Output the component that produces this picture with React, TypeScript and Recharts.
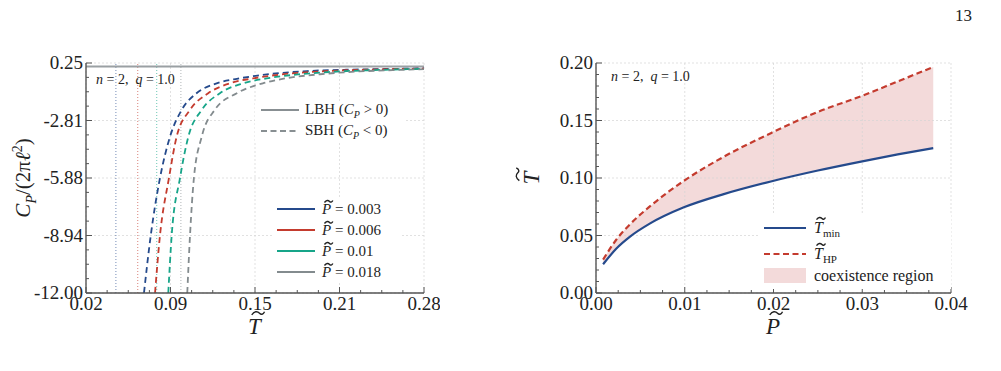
import { ComposedChart, Line, Area, XAxis, YAxis, ReferenceLine } from "recharts";

const SERIF = '"Liberation Serif", "DejaVu Serif", serif';

// ---- left panel: C_P vs T for several pressures (SBH branch, dashed) ----
const T_P003 = [0.0646, 0.0698, 0.0769, 0.0846, 0.0936, 0.105, 0.1205, 0.138, 0.1615, 0.19, 0.22, 0.25, 0.28];
const C_P003 = [-12, -8.94, -5.88, -3.68, -2.25, -1.36, -0.83, -0.57, -0.34, -0.18, -0.11, -0.07, -0.04];
const T_P006 = [0.0731, 0.0769, 0.0838, 0.0897, 0.1, 0.114, 0.1308, 0.1485, 0.17, 0.2, 0.24, 0.28];
const C_P006 = [-12, -8.94, -5.88, -3.68, -2.25, -1.36, -0.83, -0.57, -0.36, -0.2, -0.1, -0.05];
const T_P010 = [0.0833, 0.0859, 0.0923, 0.0987, 0.109, 0.123, 0.141, 0.159, 0.18, 0.21, 0.245, 0.28];
const C_P010 = [-12, -8.94, -5.88, -3.68, -2.25, -1.36, -0.83, -0.57, -0.38, -0.22, -0.12, -0.06];
const T_P018 = [0.0979, 0.1, 0.103, 0.109, 0.119, 0.136, 0.156, 0.175, 0.2, 0.23, 0.26, 0.28];
const C_P018 = [-12, -8.94, -5.88, -3.68, -2.25, -1.36, -0.83, -0.55, -0.35, -0.2, -0.12, -0.08];
// LBH branch only shows as a band just under the top edge
const T_LBH = [0.02, 0.28];
const C_LBH = [0.06, 0.06];
// dotted verticals (T_min for each pressure)
const TMIN_MARKS = [0.043, 0.0598, 0.0744, 0.093];

const PRESSURE_LABELS = ["0.003", "0.006", "0.01", "0.018"];
const PRESSURE_COLORS = ["#254a8c", "#c43b2e", "#17a589", "#838b8e"];

const T_TICKS = [0.02, 0.085, 0.15, 0.215, 0.28];
const T_TICK_LABELS = ["0.02", "0.09", "0.15", "0.21", "0.28"];
const CP_TICKS = [0.25, -2.8125, -5.875, -8.9375, -12];
const CP_TICK_LABELS = ["0.25", "-2.81", "-5.88", "-8.94", "-12.00"];

// ---- right panel: T_min and T_HP vs P ----
const P_VALUES = [0.0008, 0.0023, 0.0038, 0.0061, 0.0099, 0.0144, 0.0197, 0.025, 0.03, 0.034, 0.038];
const T_MIN = [0.025, 0.0387, 0.0488, 0.0605, 0.0745, 0.086, 0.097, 0.1065, 0.1145, 0.1205, 0.126];
const T_HP = [0.029, 0.0465, 0.0595, 0.0755, 0.0975, 0.1185, 0.139, 0.1575, 0.1715, 0.184, 0.1965];

const P_TICKS = [0, 0.01, 0.02, 0.03, 0.04];
const P_TICK_LABELS = ["0.00", "0.01", "0.02", "0.03", "0.04"];
const TT_TICKS = [0, 0.05, 0.1, 0.15, 0.2];
const TT_TICK_LABELS = ["0.00", "0.05", "0.10", "0.15", "0.20"];

const zipRows = (xs: number[], ys: number[]) => xs.map((x, i) => ({ x, y: ys[i] }));
const leftSeries = [
  zipRows(T_P003, C_P003),
  zipRows(T_P006, C_P006),
  zipRows(T_P010, C_P010),
  zipRows(T_P018, C_P018),
];
const lbhRows = zipRows(T_LBH, C_LBH);
const rightRows = P_VALUES.map((p, i) => ({ x: p, tmin: T_MIN[i], thp: T_HP[i], band: [T_MIN[i], T_HP[i]] }));

const withMinors = (majors: number[], per: number) => {
  const out: number[] = [];
  for (let i = 0; i < majors.length - 1; i++) {
    const a = majors[i];
    const b = majors[i + 1];
    for (let k = 0; k < per; k++) out.push(a + ((b - a) * k) / per);
  }
  out.push(majors[majors.length - 1]);
  return out;
};

const FRAME = "#555";
const GRID = "#d4d4d4";

type Side = "bottom" | "left" | "top" | "right";

function makeTick(side: Side, majors: number[], labels?: string[]) {
  return (props: any) => {
    const { x, y, payload } = props;
    const idx = majors.findIndex((m) => Math.abs(m - payload.value) < 1e-9);
    const len = idx >= 0 ? 6 : 3;
    let x2 = x;
    let y2 = y;
    if (side === "bottom") y2 = y - len;
    if (side === "top") y2 = y + len;
    if (side === "left") x2 = x + len;
    if (side === "right") x2 = x - len;
    const label = idx >= 0 && labels ? labels[idx] : null;
    return (
      <g>
        <line x1={x} y1={y} x2={x2} y2={y2} stroke={FRAME} strokeWidth={1} />
        {label && side === "bottom" && (
          <text x={x} y={y + 17} textAnchor="middle" fontSize={19} fontFamily={SERIF} fill="#222">
            {label}
          </text>
        )}
        {label && side === "left" && (
          <text x={x - 3} y={y + 6} textAnchor="end" fontSize={19} fontFamily={SERIF} fill="#222">
            {label}
          </text>
        )}
      </g>
    );
  };
}

function Frame({ xMajors, xLabels, xMinorPer, yMajors, yLabels, yMinorPer }: any) {
  const xTicks = withMinors(xMajors, xMinorPer);
  const yTicks = withMinors(yMajors, yMinorPer);
  const xDomain = [xMajors[0], xMajors[xMajors.length - 1]];
  const yDomain = [Math.min(...yMajors), Math.max(...yMajors)];
  return [
    <XAxis key="xb" xAxisId={0} dataKey="x" type="number" domain={xDomain} allowDataOverflow ticks={xTicks} interval={0}
      tickSize={0} tickMargin={0} tickLine={false} height={30} axisLine={{ stroke: FRAME, strokeWidth: 1.4 }}
      tick={makeTick("bottom", xMajors, xLabels)} />,
    <XAxis key="xt" xAxisId="top" orientation="top" dataKey="x" type="number" domain={xDomain} allowDataOverflow ticks={xTicks}
      interval={0} tickSize={0} tickMargin={0} tickLine={false} height={0} axisLine={{ stroke: FRAME, strokeWidth: 1.4 }}
      tick={makeTick("top", xMajors)} />,
    <YAxis key="yl" yAxisId={0} type="number" domain={yDomain} allowDataOverflow ticks={yTicks} interval={0}
      tickSize={0} tickMargin={0} tickLine={false} width={60} axisLine={{ stroke: FRAME, strokeWidth: 1.4 }}
      tick={makeTick("left", yMajors, yLabels)} />,
    <YAxis key="yr" yAxisId="right" orientation="right" type="number" domain={yDomain} allowDataOverflow ticks={yTicks}
      interval={0} tickSize={0} tickMargin={0} tickLine={false} width={0} axisLine={{ stroke: FRAME, strokeWidth: 1.4 }}
      tick={makeTick("right", yMajors)} />,
    ...xMajors.map((v: number) => (
      <ReferenceLine key={"gx" + v} x={v} stroke={GRID} strokeWidth={0.7} strokeDasharray="2 2" />
    )),
    ...yMajors.map((v: number) => (
      <ReferenceLine key={"gy" + v} y={v} stroke={GRID} strokeWidth={0.7} strokeDasharray="2 2" />
    )),
  ];
}

const abs = (left: number, top: number, extra: any = {}) => ({
  position: "absolute" as const,
  left,
  top,
  fontFamily: SERIF,
  color: "#222",
  whiteSpace: "nowrap" as const,
  lineHeight: 1,
  ...extra,
});

function LegendLine({ left, top, color, dashed, width = 38 }: any) {
  return (
    <svg style={{ position: "absolute", left, top: top - 3 }} width={width} height={6}>
      <line x1={0} y1={3} x2={width} y2={3} stroke={color} strokeWidth={2.2} strokeDasharray={dashed ? "6 3.5" : undefined} />
    </svg>
  );
}

// letter with a wide tilde drawn above it
const Tl = ({ ch }: { ch: string }) => (
  <span style={{ position: "relative", display: "inline-block" }}>
    <i>{ch}</i>
    <svg
      viewBox="0 0 20 6"
      preserveAspectRatio="none"
      style={{ position: "absolute", left: "0.12em", top: "-0.16em", width: "0.62em", height: "0.2em", overflow: "visible" }}
    >
      <path d="M1,5 C5,0 9,0 12,3 C14,5 17,5 19,1" fill="none" stroke="#222" strokeWidth={1.4} vectorEffect="non-scaling-stroke" />
    </svg>
  </span>
);

export default function App() {
  return (
    <div style={{ position: "absolute", left: 0, top: 0, width: 1001, height: 371, background: "#fff", overflow: "hidden" }}>
      <div style={abs(955, 7, { fontSize: 17 })}>13</div>

      {/* left panel */}
      <div style={{ position: "absolute", left: 0, top: 0 }}>
        <ComposedChart width={440} height={340} margin={{ top: 63, left: 26, right: 16, bottom: 17 }}>
          {Frame({ xMajors: T_TICKS, xLabels: T_TICK_LABELS, xMinorPer: 4, yMajors: CP_TICKS, yLabels: CP_TICK_LABELS, yMinorPer: 4 })}
          {TMIN_MARKS.map((t, i) => (
            <ReferenceLine key={"tm" + i} x={t} stroke={PRESSURE_COLORS[i]} strokeWidth={0.8} strokeDasharray="1 2" strokeOpacity={0.8} />
          ))}
          <Line data={lbhRows} dataKey="y" type="linear" stroke="#9aa0a3" strokeWidth={2} dot={false} isAnimationActive={false} />
          {leftSeries.map((rows, i) => (
            <Line key={i} data={rows} dataKey="y" type="monotone" stroke={PRESSURE_COLORS[i]} strokeWidth={1.8}
              strokeDasharray="6 4" dot={false} isAnimationActive={false} />
          ))}
        </ComposedChart>
      </div>
      <div style={abs(96, 73, { fontSize: 14 })}>
        <i>n</i> = 2, &nbsp;<i>q</i> = 1.0
      </div>
      <div style={{ position: "absolute", left: 255, top: 101, width: 150, height: 42, background: "#fff" }} />
      <LegendLine left={261} top={110} color="#888f92" />
      <div style={abs(305, 102, { fontSize: 15 })}>
        LBH (<i>C</i><sub style={{ fontSize: 10 }}><i>P</i></sub> &gt; 0)
      </div>
      <LegendLine left={261} top={131} color="#888f92" dashed />
      <div style={abs(305, 123, { fontSize: 15 })}>
        SBH (<i>C</i><sub style={{ fontSize: 10 }}><i>P</i></sub> &lt; 0)
      </div>
      <div style={{ position: "absolute", left: 272, top: 198, width: 130, height: 85, background: "#fff" }} />
      {PRESSURE_LABELS.map((p, i) => (
        <div key={p}>
          <LegendLine left={277} top={209 + i * 21} color={PRESSURE_COLORS[i]} />
          <div style={abs(322, 202 + i * 21, { fontSize: 15 })}>
            <Tl ch="P" /> = {p}
          </div>
        </div>
      ))}
      <div style={{ position: "absolute", left: 25, top: 178, width: 0, height: 0 }}>
        <div style={abs(0, 0, { fontSize: 21, transform: "translate(-50%, -50%) rotate(-90deg)" })}>
          <i>C</i><sub style={{ fontSize: 14 }}><i>P</i></sub>/(2π<i>ℓ</i><sup style={{ fontSize: 14 }}>2</sup>)
        </div>
      </div>
      <div style={abs(248, 315, { fontSize: 23 })}>
        <Tl ch="T" />
      </div>

      {/* right panel */}
      <div style={{ position: "absolute", left: 500, top: 0 }}>
        <ComposedChart width={480} height={340} data={rightRows} margin={{ top: 63, left: 36, right: 29, bottom: 17 }}>
          {Frame({ xMajors: P_TICKS, xLabels: P_TICK_LABELS, xMinorPer: 4, yMajors: TT_TICKS, yLabels: TT_TICK_LABELS, yMinorPer: 5 })}
          <Area dataKey="band" type="monotone" stroke="none" fill="#f3dada" fillOpacity={1} isAnimationActive={false} />
          <Line dataKey="tmin" type="monotone" stroke="#254a8c" strokeWidth={2.2} dot={false} isAnimationActive={false} />
          <Line dataKey="thp" type="monotone" stroke="#c43b2e" strokeWidth={2.2} strokeDasharray="6 3.5" dot={false} isAnimationActive={false} />
        </ComposedChart>
      </div>
      <div style={abs(611, 70, { fontSize: 14 })}>
        <i>n</i> = 2, &nbsp;<i>q</i> = 1.0
      </div>
      <div style={{ position: "absolute", left: 758, top: 215, width: 193, height: 74, background: "#fff" }} />
      <LegendLine left={764} top={228} color="#254a8c" width={42} />
      <div style={abs(814, 220, { fontSize: 16 })}>
        <Tl ch="T" /><sub style={{ fontSize: 11 }}>min</sub>
      </div>
      <LegendLine left={764} top={254} color="#c43b2e" width={42} dashed />
      <div style={abs(814, 246, { fontSize: 16 })}>
        <Tl ch="T" /><sub style={{ fontSize: 11 }}>HP</sub>
      </div>
      <div style={{ position: "absolute", left: 764, top: 268, width: 42, height: 15, background: "#f3dada" }} />
      <div style={abs(814, 268, { fontSize: 16 })}>coexistence region</div>
      <div style={{ position: "absolute", left: 531, top: 178, width: 0, height: 0 }}>
        <div style={abs(0, 0, { fontSize: 23, transform: "translate(-50%, -50%) rotate(-90deg)" })}>
          <Tl ch="T" />
        </div>
      </div>
      <div style={abs(766, 315, { fontSize: 23 })}>
        <Tl ch="P" />
      </div>
    </div>
  );
}
